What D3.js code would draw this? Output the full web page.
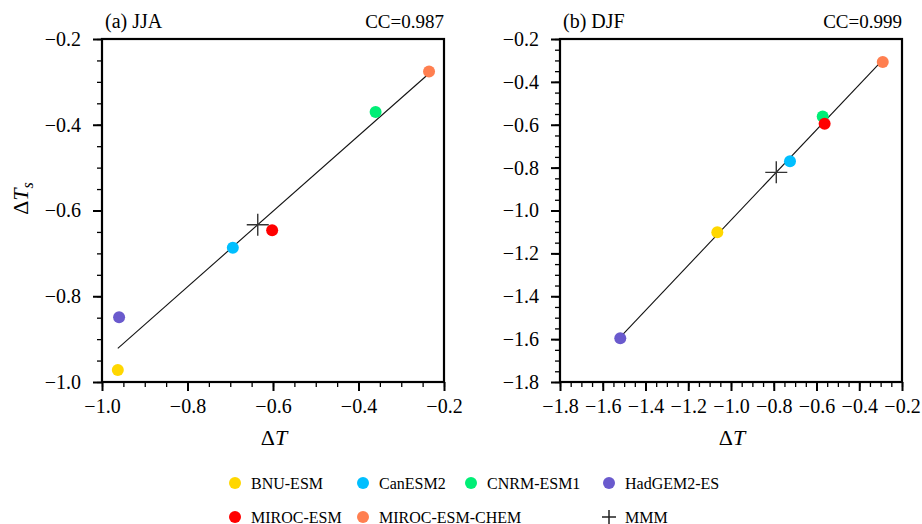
<!DOCTYPE html>
<html><head><meta charset="utf-8">
<script src="https://cdn.jsdelivr.net/npm/d3@7"></script>
<style>body{margin:0;background:#fff}svg{display:block;font-family:"Liberation Serif","Times New Roman",serif}</style>
</head><body>
<svg id="c" width="922" height="524"></svg>
<script>
const models = ["BNU-ESM","CanESM2","CNRM-ESM1","HadGEM2-ES","MIROC-ESM","MIROC-ESM-CHEM"];
const colors = ["#FFD700","#00BFFF","#00EE76","#6A5ACD","#FF0000","#FF7F50"];
// JJA
const jjaX = [-0.963,-0.694,-0.360,-0.960,-0.602,-0.235];
const jjaY = [-0.972,-0.687,-0.370,-0.849,-0.646,-0.276];
// DJF
const djfX = [-1.064,-0.724,-0.571,-1.518,-0.562,-0.290];
const djfY = [-1.102,-0.770,-0.562,-1.596,-0.595,-0.307];
const panelTitles = ["(a) JJA","(b) DJF"];
const ccLabels = ["CC=0.987","CC=0.999"];
const jjaTicks = [-1.0,-0.8,-0.6,-0.4,-0.2];
const djfTicks = [-1.8,-1.6,-1.4,-1.2,-1.0,-0.8,-0.6,-0.4,-0.2];

const svg = d3.select("#c");
const fmt = d3.format(".1f");

function panel(x0, xs, ys, dom, ticks, title, cc, showYLabel){
  const W = 342, H = 343, top = 39;
  const g = svg.append("g").attr("transform",`translate(${x0},${top})`);
  const x = d3.scaleLinear().domain(dom).range([0,W]);
  const y = d3.scaleLinear().domain(dom).range([H,0]);
  const minor = d3.range(Math.round(dom[0]*20), Math.round(dom[1]*20)+1).map(v=>v/20);
  // minor ticks
  g.append("g").attr("transform",`translate(0,${H})`)
    .call(d3.axisBottom(x).tickValues(minor).tickSize(5).tickFormat(""))
    .call(a=>a.select(".domain").remove()).selectAll("line").attr("stroke-width",1.3);
  g.append("g")
    .call(d3.axisLeft(y).tickValues(minor).tickSize(5).tickFormat(""))
    .call(a=>a.select(".domain").remove()).selectAll("line").attr("stroke-width",1.3);
  // major
  const ax = g.append("g").attr("transform",`translate(0,${H})`)
    .call(d3.axisBottom(x).tickValues(ticks).tickSize(9).tickPadding(8).tickFormat(fmt));
  ax.select(".domain").remove();
  ax.selectAll("line").attr("stroke-width",2);
  ax.selectAll("text").attr("font-size",20).attr("font-family","Liberation Serif").attr("fill","#000");
  const ay = g.append("g")
    .call(d3.axisLeft(y).tickValues(ticks).tickSize(9).tickPadding(12).tickFormat(fmt));
  ay.select(".domain").remove();
  ay.selectAll("line").attr("stroke-width",2);
  ay.selectAll("text").attr("font-size",20).attr("font-family","Liberation Serif").attr("fill","#000");
  g.append("rect").attr("width",W).attr("height",H).attr("fill","none").attr("stroke","#000").attr("stroke-width",2.2);

  // regression line
  const mx = d3.mean(xs), my = d3.mean(ys);
  let sxy=0,sxx=0;
  xs.forEach((v,i)=>{sxy+=(v-mx)*(ys[i]-my); sxx+=(v-mx)*(v-mx);});
  const b = sxy/sxx;
  const [xa,xb] = d3.extent(xs);
  g.append("line").attr("x1",x(xa)).attr("y1",y(my+b*(xa-mx)))
    .attr("x2",x(xb)).attr("y2",y(my+b*(xb-mx))).attr("stroke","#111").attr("stroke-width",1.1);
  // points
  g.selectAll("circle.p").data(xs).join("circle").attr("class","p")
    .attr("cx",(d)=>x(d)).attr("cy",(d,i)=>y(ys[i])).attr("r",6).attr("fill",(d,i)=>colors[i]);
  // MMM cross
  const cx = x(mx), cy = y(my);
  g.append("path").attr("d",`M${cx-11},${cy}H${cx+11}M${cx},${cy-11}V${cy+11}`)
    .attr("stroke","#333").attr("stroke-width",1.4);

  g.append("text").attr("x",3).attr("y",-11).attr("font-size",20).text(title);
  g.append("text").attr("x",W).attr("y",-11).attr("font-size",19).attr("text-anchor","end").text(cc);
  const xl = g.append("text").attr("x",W/2+1).attr("y",H+63).attr("font-size",22).attr("text-anchor","middle");
  xl.append("tspan").text("Δ");
  xl.append("tspan").attr("font-style","italic").text("T");
  if(showYLabel){
    const yl = g.append("text").attr("transform",`translate(-74,${H/2-12}) rotate(-90)`).attr("font-size",22).attr("text-anchor","middle");
    yl.append("tspan").text("Δ");
    yl.append("tspan").attr("font-style","italic").text("T");
    yl.append("tspan").attr("font-style","italic").attr("font-size",16).attr("dy",5).text("s");
  }
}
panel(102, jjaX, jjaY, [-1.0,-0.2], jjaTicks, panelTitles[0], ccLabels[0], true);
panel(560, djfX, djfY, [-1.8,-0.2], djfTicks, panelTitles[1], ccLabels[1], false);

// legend
const legX = [235,363,471,609];
const leg = models.map((m,i)=>({name:m,color:colors[i],col:i<4?i:i-4,row:i<4?0:1}));
leg.push({name:"MMM",color:null,col:3,row:1});
const lg = svg.append("g");
leg.forEach(d=>{
  const cx = legX[d.col], cy = d.row===0?483:517;
  if(d.color) lg.append("circle").attr("cx",cx).attr("cy",cy).attr("r",6).attr("fill",d.color);
  else lg.append("path").attr("d",`M${cx-7},${cy}H${cx+7}M${cx},${cy-7}V${cy+7}`).attr("stroke","#222").attr("stroke-width",1.5);
  lg.append("text").attr("x",cx+16).attr("y",cy+5.5).attr("font-size",16).text(d.name);
});
</script>
</body></html>
